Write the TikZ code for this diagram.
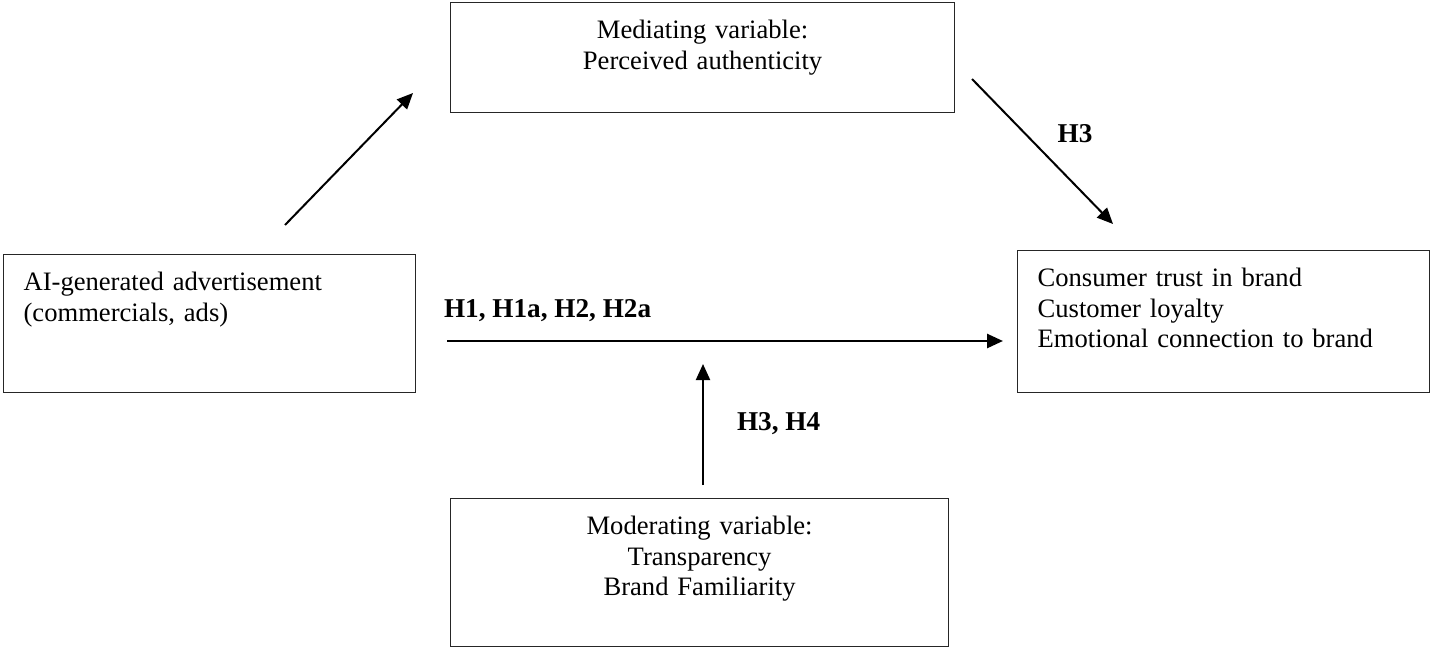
\documentclass[tikz,border=0pt]{standalone}
\usepackage{fontspec}
\setmainfont{Liberation Serif}
\usetikzlibrary{arrows.meta}

\begin{document}
\begin{tikzpicture}[x=0.5pt, y=-0.5pt,
	box/.style={draw=black!85, line width=0.6pt, anchor=north west, inner xsep=10pt, inner ysep=9pt, text height=9pt, font=\fontsize{13.3}{15.3}\selectfont},
	hyp/.style={anchor=base, font=\fontsize{13.6}{16}\selectfont\bfseries},
	arr/.style={line width=1pt, -{Triangle[length=8pt, width=7pt]}}]
				\useasboundingbox (0,0) rectangle (1430,648);
				\node[box, text width=232pt, align=center, text depth=28pt] (med) at (450,2) {Mediating variable:\\Perceived authenticity};
				\node[box, text width=186pt, align=left, text depth=42pt] (ad) at (3,254) {AI-generated advertisement\\(commercials, ads)};
				\node[box, text width=186pt, align=left, text depth=44pt] (out) at (1017,250) {Consumer trust in brand\\Customer loyalty\\Emotional connection to brand};
				\node[box, text width=229pt, align=center, text depth=47pt] (mod) at (450,498) {Moderating variable:\\Transparency\\Brand Familiarity};
				\coordinate (p1) at (285,225);
				\coordinate (p2) at (413,93);
				\coordinate (p3) at (972,79);
				\coordinate (p4) at (1113,224);
				\coordinate (p5) at (447,341);
				\coordinate (p6) at (1003,341);
				\coordinate (p7) at (703,485);
				\coordinate (p8) at (703,364);
				\draw[arr] (p1) -- (p2);
				\draw[arr] (p3) -- (p4);
				\draw[arr, line width=1.3pt] (p5) -- (p6);
				\draw[arr] (p7) -- (p8);
				\node[hyp, anchor=base west] (h1) at (437,317) {H1, H1a, H2, H2a};
				\node[hyp] (h3) at (1075,142) {H3};
				\node[hyp, anchor=base west] (h34) at (730,430) {H3, H4};
			\end{tikzpicture}
\end{document}
